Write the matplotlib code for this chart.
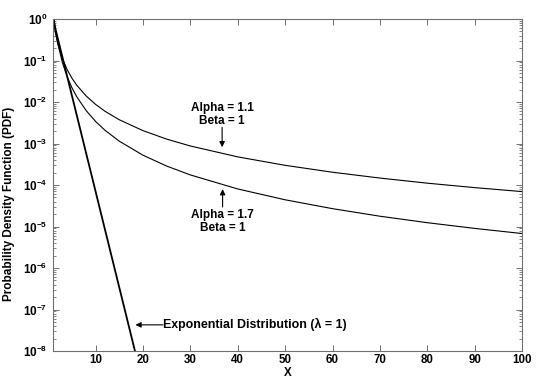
import math
import matplotlib
matplotlib.use("Agg")
import matplotlib.pyplot as plt
from matplotlib.ticker import LogLocator, FixedLocator, FuncFormatter, NullFormatter

plt.rcParams['font.family'] = ['Liberation Sans', 'DejaVu Sans']
plt.rcParams['font.weight'] = 'bold'
plt.rcParams['mathtext.fontset'] = 'custom'
plt.rcParams['mathtext.rm'] = 'Liberation Sans:bold'
plt.rcParams['mathtext.it'] = 'Liberation Sans:bold'
plt.rcParams['mathtext.bf'] = 'Liberation Sans:bold'
plt.rcParams['mathtext.default'] = 'rm'

# Values
x_pareto = [1, 1.5, 2, 3, 4, 5, 6, 8, 10, 12, 15, 20, 25, 30, 40, 50, 60, 70, 80, 90, 100]
y_alpha11 = [1.1, 0.469, 0.257, 0.110, 0.0598, 0.0375, 0.0255, 0.01396, 0.00874, 0.00596,
             0.00373, 0.00204, 0.001275, 0.000871, 0.000476, 0.000298, 0.000203,
             0.000147, 0.0001107, 8.65e-5, 6.94e-5]
y_alpha17 = [1.7, 0.569, 0.2616, 0.0875, 0.0403, 0.02204, 0.01347, 0.0062, 0.00339, 0.00207,
             0.001136, 0.000522, 0.000286, 0.0001748, 8.03e-5, 4.40e-5, 2.69e-5,
             1.77e-5, 1.236e-5, 9.0e-6, 6.77e-6]
x_exp = [1, 10, 18.3, 20]
y_exp = [1.0, 6.9e-5, 1.0e-8, 1.6e-9]

x_ticks = [10, 20, 30, 40, 50, 60, 70, 80, 90, 100]
y_exponents = [-8, -7, -6, -5, -4, -3, -2, -1, 0]

fig = plt.figure(figsize=(5.36, 3.80), dpi=100)
ax = fig.add_axes([53/536, 1-351/380, (522-53)/536, (351-19)/380])

ax.plot(x_exp, y_exp, color='black', lw=1.3)
ax.plot(x_pareto, y_alpha11, color='black', lw=0.8)
ax.plot(x_pareto, y_alpha17, color='black', lw=0.8)

ax.set_yscale('log')
ax.set_xlim(1, 100)
ax.set_ylim(1e-8, 1e0)
ax.xaxis.set_major_locator(FixedLocator(x_ticks))
ax.yaxis.set_major_locator(FixedLocator([10.0**e for e in y_exponents]))
ax.yaxis.set_minor_locator(LogLocator(base=10, subs=range(2, 10), numticks=20))
ax.yaxis.set_minor_formatter(NullFormatter())
ax.yaxis.set_major_formatter(FuncFormatter(lambda v, p: r'$10^{%d}$' % round(math.log10(v))))

gray = '#707070'
for s in ax.spines.values():
    s.set_color(gray)
    s.set_linewidth(0.8)
ax.tick_params(which='both', direction='in', top=True, right=True, color=gray)
ax.tick_params(which='major', length=4, width=0.7, labelsize=8.5, pad=4)
ax.tick_params(axis='x', which='major', labelsize=8.3, pad=2)
ax.tick_params(which='minor', length=2, width=0.6)
for lab in ax.get_xticklabels() + ax.get_yticklabels():
    lab.set_fontweight('bold')

fig.text((53 + 522) / 2 / 536, 0.003, 'X', ha='center', va='bottom', fontsize=8.3,
         fontweight='bold')
ax.set_ylabel('Probability Density Function (PDF)', fontsize=8.5, fontweight='bold')
ax.yaxis.set_label_coords(-0.081, 0.443)

arrow = dict(arrowstyle='-|>', color='black', lw=0.8, mutation_scale=8, shrinkA=0, shrinkB=0)

ax.text(36.7, 5.0e-3, 'Alpha = 1.1\nBeta = 1', ha='center', va='center', fontsize=8.5,
        fontweight='bold', linespacing=1.1)
ax.annotate('', xy=(36.7, 10**-3.09), xytext=(36.7, 10**-2.61), arrowprops=arrow)

ax.text(36.8, 10**-4.89, 'Alpha = 1.7\nBeta = 1', ha='center', va='center', fontsize=8.5,
        fontweight='bold', linespacing=1.1)
ax.annotate('', xy=(36.8, 10**-4.10), xytext=(36.8, 10**-4.53), arrowprops=arrow)

ax.text(24.3, 10**-7.37, 'Exponential Distribution (\u03bb = 1)', ha='left', va='center',
        fontsize=8.9, fontweight='bold')
ax.annotate('', xy=(18.4, 10**-7.37), xytext=(24.2, 10**-7.37), arrowprops=arrow)

fig.savefig('out.png', dpi=100)
